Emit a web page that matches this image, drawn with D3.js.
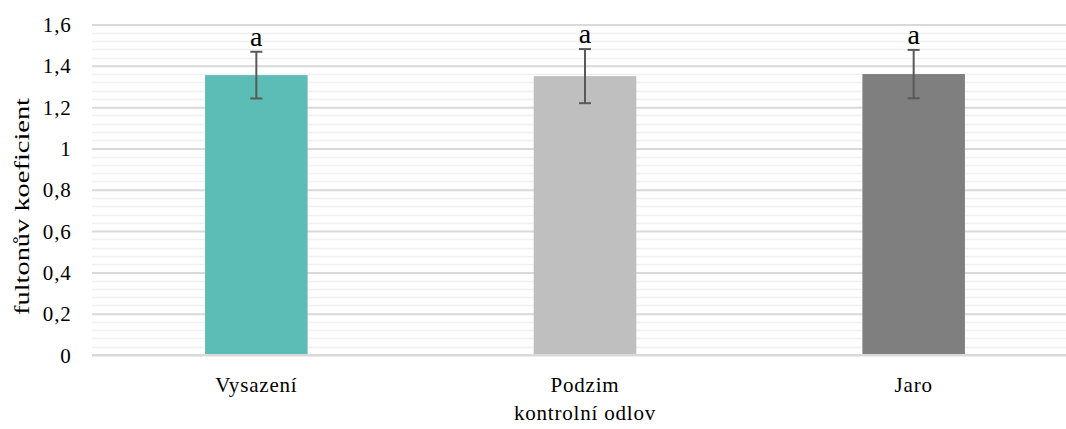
<!DOCTYPE html>
<html>
<head>
<meta charset="utf-8">
<script src="https://cdn.jsdelivr.net/npm/d3@7"></script>
<style>
  html, body { margin: 0; padding: 0; background: #fff; overflow: hidden; }
  svg { display: block; }
</style>
</head>
<body>
<svg id="chart" width="1066" height="429"></svg>
<script>
// Fulton's condition factor per control catch
const categories = ["Vysazení", "Podzim", "Jaro"];
const means = [1.355, 1.35, 1.36];
const errors = [0.113, 0.131, 0.117];
const groupLetters = ["a", "a", "a"];
const barColors = ["#5cbcb6", "#bfbfbf", "#7f7f7f"];
const majorTicks = [0, 0.2, 0.4, 0.6, 0.8, 1, 1.2, 1.4, 1.6];
const yTitle = "fultonův koeficient";
const xTitle = "kontrolní odlov";

const FONT = "'Liberation Serif', 'Times New Roman', serif";
const svg = d3.select("#chart").style("font-family", FONT);
const margin = { left: 92, right: -12, top: 24.5, bottom: 74 };
const W = 1066, H = 429;
const x0 = margin.left, x1 = W - margin.right;
const y0 = H - margin.bottom, y1 = margin.top;

const x = d3.scaleBand().domain(categories).range([x0, x1]).paddingInner(0.688).paddingOuter(0.344);
const y = d3.scaleLinear().domain([0, 1.6]).range([y0, y1]);

const fmt = v => String(v).replace(".", ",");

// minor grid lines every 0.04
const minorTicks = d3.range(0, 1.6001, 0.04).filter(v => Math.abs(Math.round(v / 0.2) * 0.2 - v) > 1e-6);
svg.append("g").selectAll("line").data(minorTicks).join("line")
  .attr("x1", x0).attr("x2", x1)
  .attr("y1", d => Math.round(y(d)) + 0.5).attr("y2", d => Math.round(y(d)) + 0.5)
  .attr("stroke", "#f0f0f0").attr("stroke-width", 1.5);

// major grid lines + y tick labels via axis
const yAxis = d3.axisLeft(y).tickValues(majorTicks).tickFormat(fmt).tickSize(-(x1 - x0)).tickPadding(20.5);
const gy = svg.append("g").attr("transform", `translate(${x0},0)`).call(yAxis);
gy.attr("font-family", null).attr("font-size", null);
gy.select(".domain").remove();
gy.selectAll(".tick line").attr("stroke", "#d9d9d9").attr("stroke-width", 2);
gy.selectAll(".tick text").attr("fill", "#000").attr("dy", 7)
  .style("font-size", "21px").style("letter-spacing", "0.8px");

// bars
svg.append("g").selectAll("rect").data(categories).join("rect")
  .attr("x", d => x(d))
  .attr("width", x.bandwidth())
  .attr("y", (d, i) => y(means[i]))
  .attr("height", (d, i) => y(0) - y(means[i]))
  .attr("fill", (d, i) => barColors[i]);

// baseline
svg.append("line").attr("x1", x0).attr("x2", x1).attr("y1", y(0)).attr("y2", y(0))
  .attr("stroke", "#d9d9d9").attr("stroke-width", 2);

// error bars
const eb = svg.append("g").attr("stroke", "#595959").attr("stroke-width", 2);
categories.forEach((c, i) => {
  const cx = x(c) + x.bandwidth() / 2;
  const top = y(means[i] + errors[i]), bot = y(means[i] - errors[i]);
  eb.append("line").attr("x1", cx).attr("x2", cx).attr("y1", top).attr("y2", bot);
  eb.append("line").attr("x1", cx - 6).attr("x2", cx + 6).attr("y1", top).attr("y2", top);
  eb.append("line").attr("x1", cx - 6).attr("x2", cx + 6).attr("y1", bot).attr("y2", bot);
});

// significance letters
svg.append("g").selectAll("text").data(categories).join("text")
  .attr("x", d => x(d) + x.bandwidth() / 2)
  .attr("y", (d, i) => y(means[i] + errors[i]) - 6)
  .attr("text-anchor", "middle")
  .style("font-size", "28px")
  .text((d, i) => groupLetters[i]);

// x tick labels
const xAxis = d3.axisBottom(x).tickSize(0).tickPadding(0);
const gx = svg.append("g").attr("transform", `translate(0,${y0})`).call(xAxis);
gx.attr("font-family", null).attr("font-size", null);
gx.select(".domain").remove();
gx.selectAll(".tick text").attr("fill", "#000").attr("dy", null).attr("y", 37)
  .style("font-size", "21px").style("letter-spacing", "0.8px");

// axis titles
svg.append("text")
  .attr("x", 585).attr("y", 420)
  .attr("text-anchor", "middle").style("font-size", "21px").style("letter-spacing", "0.8px").text(xTitle);
svg.append("text")
  .attr("transform", `translate(29,206.5) rotate(-90)`)
  .attr("text-anchor", "middle").style("font-size", "22px")
  .attr("textLength", 217).attr("lengthAdjust", "spacingAndGlyphs").text(yTitle);
</script>
</body>
</html>
